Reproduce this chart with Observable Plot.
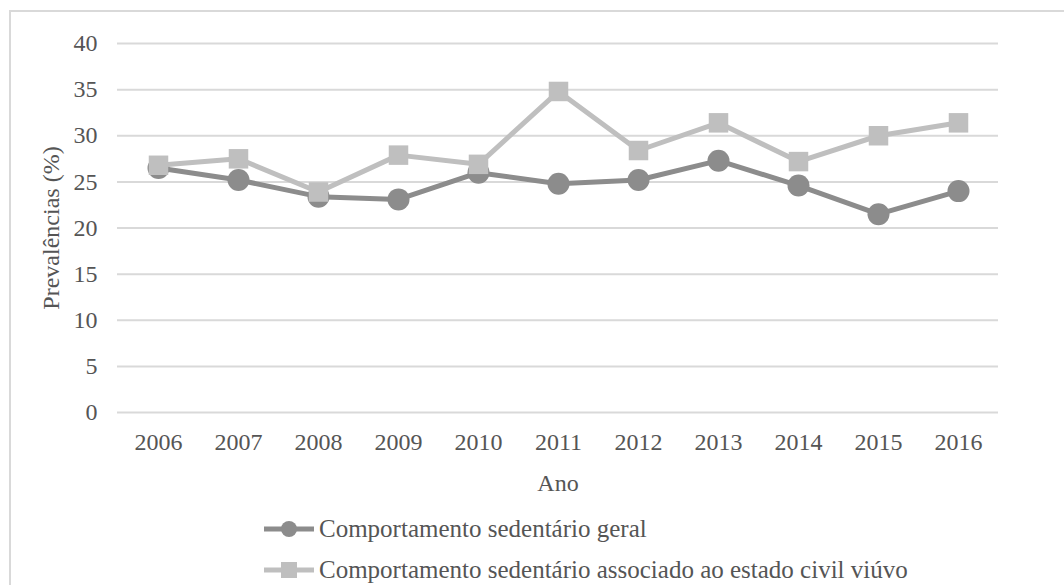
<!DOCTYPE html>
<html>
<head>
<meta charset="utf-8">
<script src="https://cdn.jsdelivr.net/npm/d3@7"></script>
<script src="https://cdn.jsdelivr.net/npm/@observablehq/plot@0.6"></script>
<style>
  html, body { margin: 0; padding: 0; background: #fff; }
  #wrap { position: relative; width: 1064px; height: 585px; overflow: hidden; font-family: "Liberation Serif", "Times New Roman", serif; color: #555555; }
  #frame { position: absolute; left: 9px; top: 10px; width: 1100px; height: 620px; border: 2px solid #d9d9d9; box-sizing: border-box; }
  #chart { position: absolute; left: 0; top: 0; }
  #legend { position: absolute; left: 262px; top: 508px; font-size: 25px; }
  .row { display: flex; align-items: center; height: 41px; }
  .row svg { display: block; margin-right: 3px; }
</style>
</head>
<body>
<div id="wrap">
  <div id="frame"></div>
  <div id="chart"></div>
  <div id="legend"></div>
</div>
<script>
const years = ["2006","2007","2008","2009","2010","2011","2012","2013","2014","2015","2016"];
const geral = [26.5, 25.2, 23.4, 23.1, 26.0, 24.8, 25.2, 27.3, 24.6, 21.5, 24.0];
const viuvo = [26.8, 27.5, 23.9, 27.9, 26.9, 34.8, 28.4, 31.4, 27.2, 30.0, 31.4];
const seriesNames = ["Comportamento sedentário geral", "Comportamento sedentário associado ao estado civil viúvo"];
const yTicks = [0, 5, 10, 15, 20, 25, 30, 35, 40];
const colors = ["#8c8c8c", "#bfbfbf"];

const dGeral = years.map((y, i) => ({year: y, value: geral[i]}));
const dViuvo = years.map((y, i) => ({year: y, value: viuvo[i]}));

const chart = Plot.plot({
  width: 1064,
  height: 500,
  marginTop: 43,
  marginLeft: 117,
  marginRight: 66,
  marginBottom: 88,
  style: {fontFamily: "'Liberation Serif', 'Times New Roman', serif", fontSize: "24px", color: "#555555", background: "transparent"},
  x: {type: "point", domain: years, padding: 0.5, label: "Ano", labelAnchor: "center", labelArrow: "none"},
  y: {domain: [0, 40], ticks: yTicks, label: "Prevalências (%)", labelAnchor: "center", labelArrow: "none"},
  marks: [
    Plot.ruleY(yTicks, {stroke: "#d9d9d9", strokeWidth: 2}),
    Plot.axisX({tickSize: 0, tickPadding: 20, fill: "#555555", fontSize: 24, label: "Ano", labelOffset: 78, labelAnchor: "center", labelArrow: "none"}),
    Plot.axisY(yTicks, {tickSize: 0, tickPadding: 20, fill: "#555555", fontSize: 24, label: "Prevalências (%)", labelOffset: 76, labelAnchor: "center", labelArrow: "none"}),
    Plot.line(dGeral, {x: "year", y: "value", stroke: colors[0], strokeWidth: 5}),
    Plot.dot(dGeral, {x: "year", y: "value", r: 11, fill: colors[0], symbol: "circle"}),
    Plot.line(dViuvo, {x: "year", y: "value", stroke: colors[1], strokeWidth: 5}),
    Plot.dot(dViuvo, {x: "year", y: "value", r: 11, fill: colors[1], symbol: "square"})
  ]
});
document.getElementById("chart").appendChild(chart);

const legend = d3.select("#legend");
seriesNames.forEach((name, i) => {
  const row = legend.append("div").attr("class", "row");
  const s = row.append("svg").attr("width", 54).attr("height", 24);
  s.append("line").attr("x1", 2).attr("x2", 52).attr("y1", 12).attr("y2", 12).attr("stroke", colors[i]).attr("stroke-width", 5);
  if (i === 0) s.append("circle").attr("cx", 27).attr("cy", 12).attr("r", 8).attr("fill", colors[i]);
  else s.append("rect").attr("x", 19).attr("y", 4).attr("width", 16).attr("height", 16).attr("fill", colors[i]);
  row.append("span").text(name);
});
</script>
</body>
</html>
